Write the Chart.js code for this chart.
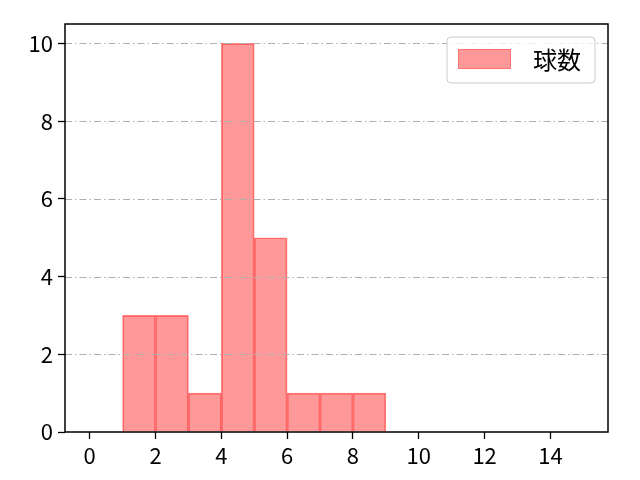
<!DOCTYPE html>
<html>
<head>
<meta charset="utf-8">
<script src="https://cdn.jsdelivr.net/npm/chart.js@4/dist/chart.umd.min.js"></script>
<style>
html,body{margin:0;padding:0;background:#fff;}
#wrap{width:640px;height:480px;}
</style>
</head>
<body>
<div id="wrap"><canvas id="c" width="640" height="480"></canvas></div>
<script>
const seriesLabel = "球数";
const binEdges = [1, 2, 3, 4, 5, 6, 7, 8, 9];
const counts = [3, 3, 1, 10, 5, 1, 1, 1];
const xTicks = [0, 2, 4, 6, 8, 10, 12, 14];
const yTicks = [0, 2, 4, 6, 8, 10];

const FONT = "'Noto Sans CJK JP', 'DejaVu Sans', sans-serif";

const barData = counts.map((v, i) => ({ x: (binEdges[i] + binEdges[i + 1]) / 2, y: v }));

const gridPlugin = {
  id: 'gridOver',
  afterDatasetsDraw(chart) {
    const { ctx, chartArea: a, scales } = chart;
    ctx.save();
    ctx.strokeStyle = '#b0b0b0';
    ctx.lineWidth = 1;
    ctx.setLineDash([7, 3, 1.5, 3]);
    yTicks.forEach(v => {
      if (v === 0) return;
      const y = Math.round(scales.y.getPixelForValue(v)) + 0.5;
      ctx.beginPath();
      ctx.moveTo(a.left, y);
      ctx.lineTo(a.right, y);
      ctx.stroke();
    });
    ctx.restore();
  }
};

const framePlugin = {
  id: 'frame',
  afterDraw(chart) {
    const { ctx, chartArea: a } = chart;
    ctx.save();
    ctx.strokeStyle = '#000';
    ctx.lineWidth = 1.5;
    ctx.strokeRect(a.left, a.top, a.right - a.left, a.bottom - a.top);
    // legend
    const bx = a.right - 161, by = a.top + 13, bw = 148, bh = 46, r = 4;
    ctx.beginPath();
    ctx.moveTo(bx + r, by);
    ctx.lineTo(bx + bw - r, by);
    ctx.quadraticCurveTo(bx + bw, by, bx + bw, by + r);
    ctx.lineTo(bx + bw, by + bh - r);
    ctx.quadraticCurveTo(bx + bw, by + bh, bx + bw - r, by + bh);
    ctx.lineTo(bx + r, by + bh);
    ctx.quadraticCurveTo(bx, by + bh, bx, by + bh - r);
    ctx.lineTo(bx, by + r);
    ctx.quadraticCurveTo(bx, by, bx + r, by);
    ctx.closePath();
    ctx.fillStyle = 'rgba(255,255,255,0.8)';
    ctx.fill();
    ctx.strokeStyle = '#cccccc';
    ctx.lineWidth = 1;
    ctx.stroke();
    ctx.fillStyle = 'rgba(255,0,0,0.4)';
    ctx.fillRect(bx + 11, by + 12, 53, 20);
    ctx.strokeStyle = 'rgba(255,0,0,0.25)';
    ctx.strokeRect(bx + 11.5, by + 12.5, 52, 19);
    ctx.fillStyle = '#000';
    ctx.font = '24px ' + FONT;
    ctx.textBaseline = 'middle';
    ctx.fillText(seriesLabel, bx + 86, by + 23);
    ctx.restore();
  }
};

new Chart(document.getElementById('c'), {
  type: 'bar',
  data: {
    datasets: [{
      label: seriesLabel,
      data: barData,
      backgroundColor: 'rgba(255,0,0,0.4)',
      borderColor: 'rgba(255,30,30,0.55)',
      borderWidth: 1,
      barPercentage: 1,
      categoryPercentage: 1,
      grouped: false
    }]
  },
  options: {
    responsive: false,
    devicePixelRatio: 1,
    animation: false,
    layout: { padding: { top: 24, right: 32, left: 0, bottom: 0 } },
    plugins: { legend: { display: false }, tooltip: { enabled: false } },
    scales: {
      x: {
        type: 'linear',
        offset: false,
        min: -0.75,
        max: 15.75,
        afterBuildTicks(s) { s.ticks = xTicks.map(v => ({ value: v })); },
        afterFit(s) { s.height = 48; },
        ticks: { font: { family: FONT, size: 22 }, color: '#000', padding: 3, includeBounds: false, autoSkip: false, maxRotation: 0 },
        grid: { offset: false, drawOnChartArea: false, drawTicks: true, tickLength: 7, tickColor: '#000', tickWidth: 1.3 },
        border: { display: false }
      },
      y: {
        type: 'linear',
        min: 0,
        max: 10.5,
        afterBuildTicks(s) { s.ticks = yTicks.map(v => ({ value: v })); },
        afterFit(s) { s.width = 65; },
        ticks: { font: { family: FONT, size: 22 }, color: '#000', padding: 5, includeBounds: false },
        grid: { drawOnChartArea: false, drawTicks: true, tickLength: 7, tickColor: '#000', tickWidth: 1.3 },
        border: { display: false }
      }
    }
  },
  plugins: [gridPlugin, framePlugin]
});
</script>
</body>
</html>
